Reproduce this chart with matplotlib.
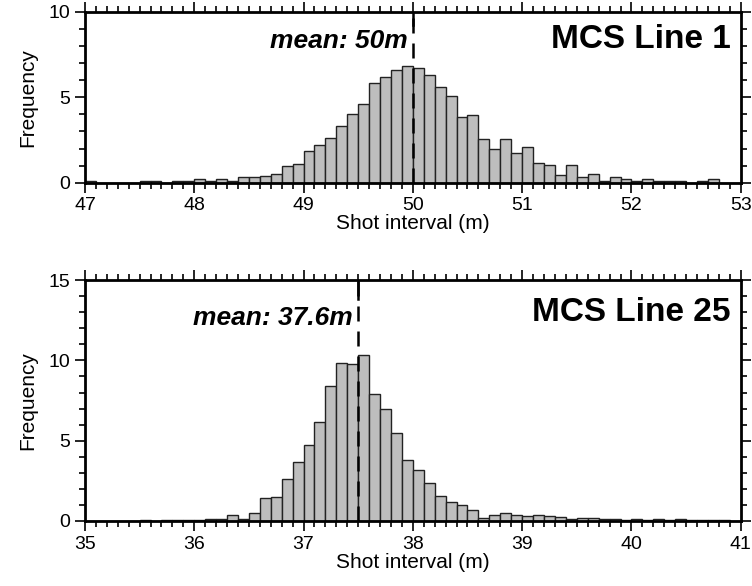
import numpy as np
import matplotlib
matplotlib.use("Agg")
import matplotlib.pyplot as plt
from matplotlib.ticker import MultipleLocator

plt.rcParams['font.family'] = ['Liberation Sans', 'DejaVu Sans']

# Line 1: bins of 0.1 m from 47.0 to 53.0
l1_start = 47.0
l1_counts = [0.1,0,0,0,0,0.1,0.1,0,0.1,0.1,
             0.2,0.1,0.2,0.1,0.35,0.35,0.4,0.5,1.0,1.1,
             1.85,2.2,2.6,3.3,4.0,4.6,5.85,6.2,6.6,6.8,
             6.7,6.3,5.6,5.05,3.85,3.95,2.55,1.95,2.55,1.75,
             2.1,1.15,1.05,0.45,1.05,0.33,0.5,0.1,0.35,0.2,
             0.1,0.2,0.1,0.1,0.1,0,0.1,0.25,0,0]
l1_mean_line = 50.0

# Line 25: bins of 0.1 m from 35.0 to 41.0
l25_start = 35.0
l25_counts = [0,0,0,0,0,0.05,0,0.05,0.05,0.05,
              0.05,0.1,0.1,0.4,0.15,0.5,1.4,1.5,2.6,3.65,
              4.7,6.15,8.4,9.85,9.8,10.35,7.9,6.95,5.45,3.8,
              3.15,2.35,1.55,1.15,1.0,0.7,0.2,0.35,0.5,0.35,
              0.3,0.35,0.3,0.25,0.15,0.2,0.2,0.1,0.1,0.05,
              0.15,0.05,0.1,0.05,0.1,0.05,0.05,0.05,0.05,0]
l25_mean_line = 37.5

fig = plt.figure(figsize=(7.52, 5.86), dpi=100)
ax1 = fig.add_axes([0.113, 0.688, 0.872, 0.292])
ax2 = fig.add_axes([0.113, 0.111, 0.872, 0.411])

def draw(ax, start, counts, mean, xlim, ylim, ymaj, title, mlabel, mx, my):
    edges = start + 0.1*np.arange(len(counts))
    ax.bar(edges, counts, width=0.1, align='edge', color='#bebebe',
           edgecolor='#222222', linewidth=1.0)
    ax.plot([mean, mean], [0, ylim], color='black', lw=1.8, ls=(0, (6, 4)))
    ax.plot([mean, mean], [ylim*0.92, ylim], color='black', lw=1.8)
    ax.set_xlim(*xlim); ax.set_ylim(0, ylim)
    ax.xaxis.set_major_locator(MultipleLocator(1))
    ax.xaxis.set_minor_locator(MultipleLocator(0.1))
    ax.yaxis.set_major_locator(MultipleLocator(ymaj))
    ax.yaxis.set_minor_locator(MultipleLocator(1))
    ax.tick_params(which='both', direction='out', top=True, right=True, labelsize=14, width=1.2)
    ax.tick_params(which='major', length=7)
    ax.tick_params(which='minor', length=4)
    for s in ax.spines.values():
        s.set_linewidth(2)
    ax.set_xlabel('Shot interval (m)', fontsize=15, labelpad=0)
    ax.set_ylabel('Frequency', fontsize=15, labelpad=8)
    ax.text(0.985, 0.93, title, transform=ax.transAxes, ha='right', va='top',
            fontsize=24, fontweight='bold')
    ax.text(mx, my, mlabel, ha='right', va='top', fontsize=19,
            fontweight='bold', fontstyle='italic')

draw(ax1, l1_start, l1_counts, l1_mean_line, (47, 53), 10, 5, 'MCS Line 1', 'mean: 50m', 49.95, 9.0)
draw(ax2, l25_start, l25_counts, l25_mean_line, (35, 41), 15, 5, 'MCS Line 25', 'mean: 37.6m', 37.45, 13.4)

fig.savefig('out.png', dpi=100)
